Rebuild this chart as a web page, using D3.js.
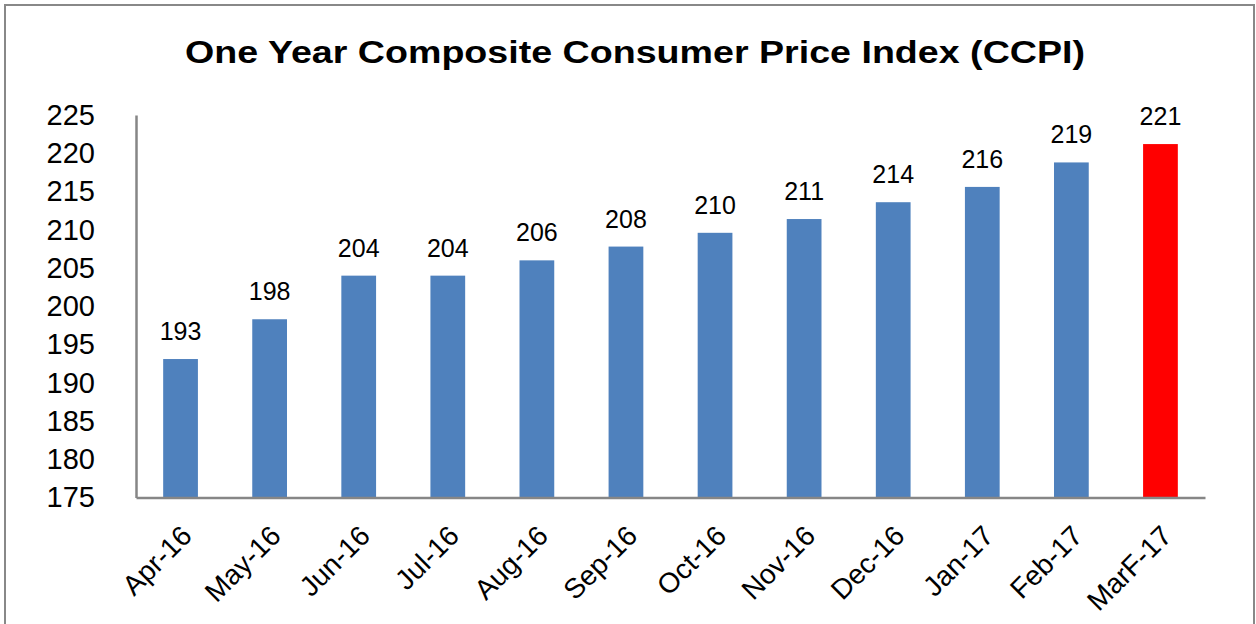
<!DOCTYPE html>
<html>
<head>
<meta charset="utf-8">
<script src="https://cdn.jsdelivr.net/npm/d3@7"></script>
<style>
  body { margin: 0; background: #fff; }
  svg { display: block; font-family: "Liberation Sans", Arial, sans-serif; }
</style>
</head>
<body>
<svg id="chart" width="1256" height="624"></svg>
<script>
// chart data
var months = ["Apr-16", "May-16", "Jun-16", "Jul-16", "Aug-16", "Sep-16",
  "Oct-16", "Nov-16", "Dec-16", "Jan-17", "Feb-17", "MarF-17"];
var ccpi = [193.1, 198.3, 204.0, 204.0, 206.0, 207.8, 209.6, 211.4, 213.6, 215.6, 218.8, 221.2];
var yTicks = [175, 180, 185, 190, 195, 200, 205, 210, 215, 220, 225];
var title = "One Year Composite Consumer Price Index (CCPI)";

var dataset = months.map(function (m, i) {
  return { month: m, value: ccpi[i], last: i === months.length - 1 };
});

var svg = d3.select("#chart");

var dimensions = {
  left: 136,
  right: 1205,
  top: 115,
  bottom: 497.5,
};

// outer frame
svg.append("rect")
  .attr("x", 5)
  .attr("y", 5)
  .attr("width", 1249)
  .attr("height", 640)
  .attr("fill", "none")
  .attr("stroke", "#888")
  .attr("stroke-width", 2);

// title
svg.append("text")
  .attr("x", 635)
  .attr("y", 63)
  .attr("text-anchor", "middle")
  .style("font-size", "32px")
  .style("font-weight", "bold")
  .attr("textLength", 900)
  .attr("lengthAdjust", "spacingAndGlyphs")
  .text(title);

// scales
var xScale = d3.scaleBand()
  .domain(months)
  .range([dimensions.left, dimensions.right])
  .padding(0);

var yScale = d3.scaleLinear()
  .domain([175, 225])
  .range([dimensions.bottom, dimensions.top]);

var barWidth = xScale.bandwidth() * 0.39;

// bars
svg.append("g")
  .selectAll("rect")
  .data(dataset)
  .enter()
  .append("rect")
  .attr("x", function (d) { return xScale(d.month) + (xScale.bandwidth() - barWidth) / 2; })
  .attr("width", barWidth)
  .attr("y", function (d) { return yScale(d.value); })
  .attr("height", function (d) { return yScale(175) - yScale(d.value); })
  .attr("fill", function (d) { return d.last ? "#ff0000" : "#4f81bd"; });

// value labels
svg.append("g")
  .selectAll("text")
  .data(dataset)
  .enter()
  .append("text")
  .attr("x", function (d) { return xScale(d.month) + xScale.bandwidth() / 2; })
  .attr("y", function (d) { return yScale(d.value) - 19; })
  .attr("text-anchor", "middle")
  .style("font-size", "25px")
  .text(function (d) { return d3.format(".0f")(d.value); });

// y axis
var yAxis = d3.axisLeft(yScale).tickValues(yTicks).tickSize(0).tickPadding(41);
var yG = svg.append("g")
  .attr("transform", "translate(" + dimensions.left + ",0)")
  .call(yAxis);
yG.select(".domain").attr("stroke", "#868686").attr("stroke-width", 2.5);
yG.selectAll("text")
  .style("font-size", "29px")
  .attr("fill", "#000")
  .attr("font-family", null);

// x axis
var xAxis = d3.axisBottom(xScale).tickSize(0).tickSizeOuter(0);
var xG = svg.append("g")
  .attr("transform", "translate(0," + dimensions.bottom + ")")
  .call(xAxis);
xG.select(".domain").attr("stroke", "#868686").attr("stroke-width", 2.5);
xG.selectAll("text")
  .style("font-size", "28px")
  .attr("fill", "#000")
  .attr("font-family", null)
  .style("text-anchor", "end")
  .attr("y", 0)
  .attr("dy", 0)
  .attr("transform", "translate(13,40) rotate(-45)");
</script>
</body>
</html>
